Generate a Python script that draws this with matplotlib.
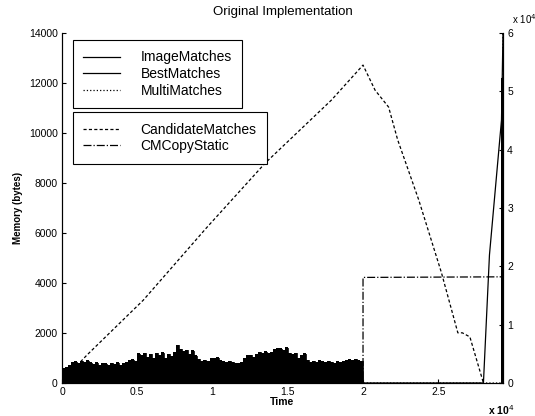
import matplotlib
matplotlib.use("Agg")
import matplotlib.pyplot as plt
from matplotlib.lines import Line2D

plt.rcParams['font.family'] = ['Liberation Sans', 'DejaVu Sans']

# ---------------- data ----------------
# Left axis (Memory, bytes)
image_t = [0.00, 0.02, 0.04, 0.06, 0.08, 0.10, 0.12, 0.14, 0.16, 0.18,
           0.20, 0.22, 0.24, 0.26, 0.28, 0.30, 0.32, 0.34, 0.36, 0.38,
           0.40, 0.42, 0.44, 0.46, 0.48, 0.50, 0.52, 0.54, 0.56, 0.58,
           0.60, 0.62, 0.64, 0.66, 0.68, 0.70, 0.72, 0.74, 0.76, 0.78,
           0.80, 0.82, 0.84, 0.86, 0.88, 0.90, 0.92, 0.94, 0.96, 0.98,
           1.00, 1.02, 1.04, 1.06, 1.08, 1.10, 1.12, 1.14, 1.16, 1.18,
           1.20, 1.22, 1.24, 1.26, 1.28, 1.30, 1.32, 1.34, 1.36, 1.38,
           1.40, 1.42, 1.44, 1.46, 1.48, 1.50, 1.52, 1.54, 1.56, 1.58,
           1.60, 1.62, 1.64, 1.66, 1.68, 1.70, 1.72, 1.74, 1.76, 1.78,
           1.80, 1.82, 1.84, 1.86, 1.88, 1.90, 1.92, 1.94, 1.96, 1.98,
           2.00, 2.915, 2.918, 2.922, 2.926, 2.93]
image_v = [600, 650, 700, 820, 860, 780, 880, 840, 900, 820,
           760, 820, 700, 800, 780, 720, 800, 760, 820, 700,
           780, 820, 900, 940, 860, 1180, 1100, 1200, 1050, 1150,
           980, 1200, 1100, 1220, 1000, 1150, 1080, 1250, 1520, 1350,
           1280, 1320, 1150, 1300, 1100, 950, 880, 920, 860, 1000,
           980, 1020, 900, 860, 820, 880, 840, 800, 780, 820,
           1000, 1100, 1120, 1050, 1150, 1250, 1200, 1260, 1200, 1220,
           1350, 1400, 1380, 1300, 1420, 1200, 1150, 1190, 1000, 1100,
           1180, 920, 850, 880, 820, 900, 860, 820, 880, 850,
           800, 860, 820, 880, 900, 940, 920, 960, 900, 880,
           0, 0, 12200, 11800, 12200, 12000]

best_t = [0.0, 2.80, 2.84, 2.92, 2.93]
best_v = [0, 0, 5120, 10520, 14000]

multi_t = [0.0, 2.926, 2.93]
multi_v = [0, 0, 14000]

# Right axis (x 10^4)
cand_t = [0.0, 0.166, 0.54, 0.96, 1.35, 1.79, 2.0, 2.08, 2.17, 2.23,
          2.37, 2.52, 2.63, 2.66, 2.71, 2.80]
cand_v = [0.03, 0.48, 1.42, 2.66, 3.77, 4.85, 5.45, 5.02, 4.73, 4.17,
          3.14, 1.90, 0.86, 0.86, 0.79, 0.0]

cms_t = [0.0, 2.0, 2.0, 2.93]
cms_v = [0.0, 0.0, 1.81, 1.82]

xticks = [0, 0.5, 1, 1.5, 2, 2.5]
xticklabels = ['0', '0.5', '1', '1.5', '2', '2.5']
yticks_left = [0, 2000, 4000, 6000, 8000, 10000, 12000, 14000]
yticks_right = [0, 1, 2, 3, 4, 5, 6]

# ---------------- figure ----------------
fig = plt.figure(figsize=(5.35, 4.16), dpi=100)
ax = fig.add_axes([62/535, 1-383/416, (503-62)/535, (383-33)/416])
ax2 = ax.twinx()

lw = 0.9
ax.fill_between(image_t, 0, image_v, step='post', color='black', lw=0)
ax.step(image_t, image_v, where='post', color='black', lw=0.6)
ax.plot(best_t, best_v, color='black', lw=lw, ls='-')
ax.plot(multi_t, multi_v, color='black', lw=lw, ls=':')

ax2.plot(cand_t, cand_v, color='black', lw=lw, ls=(0, (2.5, 1.8)))
ax2.plot(cms_t, cms_v, color='black', lw=lw, ls='-.')

ax.set_xlim(0, 2.93)
ax.set_ylim(0, 14000)
ax2.set_ylim(0, 6)

ax.set_xticks(xticks)
ax.set_xticklabels(xticklabels)
ax.set_yticks(yticks_left)
ax.set_yticklabels([str(v) for v in yticks_left])
ax2.set_yticks(yticks_right)
ax2.set_yticklabels([str(v) for v in yticks_right])

for a in (ax, ax2):
    a.spines['top'].set_visible(False)
    for s in a.spines.values():
        s.set_linewidth(0.8)
    a.tick_params(direction='in', length=3, width=0.8, labelsize=7.5, pad=3)

ax.set_title('Original Implementation', fontsize=9.5, pad=13)
ax.set_ylabel('Memory (bytes)', fontsize=7, fontweight='bold', labelpad=4)
ax.set_xlabel('Time', fontsize=7.5, fontweight='bold', labelpad=0)
fig.text(488/535, 1-410/416, r'x 10$^4$', fontsize=7.5, fontweight='bold',
         va='center', ha='left')
fig.text(512/535, 1-19/416, r'x 10$^4$', fontsize=7, va='center', ha='left')

# legends
common = dict(loc='upper left', fontsize=10, labelspacing=0.2, borderpad=0.75,
              handlelength=2.6, handletextpad=1.5, borderaxespad=0,
              fancybox=False, edgecolor='black', framealpha=1)
h1 = [Line2D([], [], color='black', lw=lw, ls='-'),
      Line2D([], [], color='black', lw=lw, ls='-'),
      Line2D([], [], color='black', lw=lw, ls=':')]
leg1 = ax2.legend(h1, ['ImageMatches', 'BestMatches', 'MultiMatches'],
                  bbox_to_anchor=(0.025, 0.98), **common)
leg1.get_frame().set_linewidth(0.8)
ax2.add_artist(leg1)
h2 = [Line2D([], [], color='black', lw=lw, ls=(0, (2.5, 1.8))),
      Line2D([], [], color='black', lw=lw, ls='-.')]
leg2 = ax2.legend(h2, ['CandidateMatches', 'CMCopyStatic'],
                  bbox_to_anchor=(0.025, 0.774), **common)
leg2.get_frame().set_linewidth(0.8)

fig.savefig('out.png', dpi=100)
